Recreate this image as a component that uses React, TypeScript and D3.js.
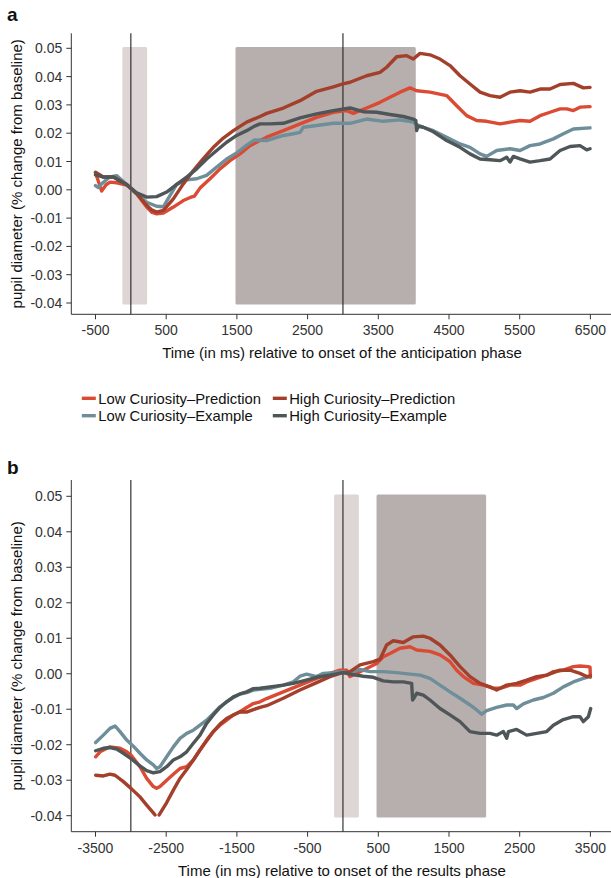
import React from "react";
import * as d3 from "d3";

type Pt = [number, number];

const seriesNames = [
  "Low Curiosity\u2013Prediction",
  "High Curiosity\u2013Prediction",
  "Low Curiosity\u2013Example",
  "High Curiosity\u2013Example",
];
const seriesColors = ["#DB4A32", "#A33F2B", "#6E8E99", "#4E5658"];

const yTicks = [0.05, 0.04, 0.03, 0.02, 0.01, 0, -0.01, -0.02, -0.03, -0.04];
const yTickLabels = ["0.05", "0.04", "0.03", "0.02", "0.01", "0.00", "-0.01", "-0.02", "-0.03", "-0.04"];
const xTicksA = [-500, 500, 1500, 2500, 3500, 4500, 5500, 6500];
const xTicksB = [-3500, -2500, -1500, -500, 500, 1500, 2500, 3500];

const shadesA = [
  { x0: -120, x1: 230, dark: false },
  { x0: 1480, x1: 4030, dark: true },
];
const shadesB = [
  { x0: -125, x1: 225, dark: false },
  { x0: 475, x1: 2025, dark: true },
];
const shadeRange = [-0.0405, 0.0505];
const vlinesA = [0, 3000];
const vlinesB = [-3000, 0];

// Panel a: anticipation phase
const aLowPred: Pt[] = [[-500,0.0060],[-460,0.0030],[-413,-0.0004],[-350,0.0018],[-295,0.0027],[-200,0.0025],[-59,0.0017],[82,-0.0014],[224,-0.0061],[300,-0.0080],[365,-0.0085],[460,-0.0082],[601,-0.0061],[742,-0.0038],[840,-0.0027],[900,-0.0022],[978,0.0006],[1120,0.0039],[1261,0.0074],[1402,0.0103],[1544,0.0127],[1685,0.0156],[1827,0.0174],[1921,0.0186],[2157,0.0209],[2393,0.0233],[2628,0.0256],[2864,0.0274],[3052,0.0280],[3147,0.0270],[3335,0.0289],[3524,0.0309],[3665,0.0327],[3807,0.0345],[3948,0.0360],[4043,0.0350],[4231,0.0345],[4467,0.0333],[4609,0.0297],[4750,0.0262],[4892,0.0245],[5033,0.0242],[5222,0.0233],[5363,0.0239],[5505,0.0245],[5646,0.0242],[5788,0.0262],[5929,0.0274],[6071,0.0286],[6165,0.0286],[6259,0.0280],[6353,0.0292],[6495,0.0294]];
const aHighPred: Pt[] = [[-500,0.0062],[-389,0.0045],[-248,0.0045],[-59,0.0019],[82,-0.0014],[224,-0.0055],[300,-0.0072],[365,-0.0079],[460,-0.0073],[601,-0.0032],[742,0.0021],[884,0.0068],[1025,0.0110],[1167,0.0150],[1308,0.0183],[1450,0.0209],[1638,0.0239],[1827,0.0259],[1921,0.0270],[2157,0.0289],[2393,0.0315],[2628,0.0348],[2864,0.0364],[3000,0.0374],[3100,0.0380],[3335,0.0403],[3524,0.0415],[3618,0.0433],[3760,0.0470],[3901,0.0474],[3995,0.0462],[4090,0.0482],[4231,0.0477],[4373,0.0462],[4514,0.0439],[4656,0.0403],[4797,0.0374],[4939,0.0345],[5080,0.0333],[5222,0.0327],[5363,0.0345],[5505,0.0350],[5646,0.0345],[5788,0.0356],[5929,0.0356],[6071,0.0372],[6259,0.0376],[6401,0.0360],[6495,0.0362]];
const aLowEx: Pt[] = [[-500,0.0015],[-460,0.0008],[-413,0.0021],[-300,0.0045],[-201,0.0050],[-59,0.0019],[82,-0.0014],[224,-0.0044],[365,-0.0058],[460,-0.0060],[507,-0.0040],[648,0.0019],[790,0.0035],[931,0.0039],[1072,0.0051],[1214,0.0080],[1355,0.0109],[1497,0.0130],[1638,0.0158],[1750,0.0176],[1921,0.0174],[2157,0.0192],[2300,0.0198],[2393,0.0203],[2440,0.0221],[2628,0.0227],[2864,0.0235],[3100,0.0235],[3335,0.0250],[3571,0.0242],[3807,0.0247],[3995,0.0239],[4043,0.0230],[4137,0.0221],[4279,0.0209],[4467,0.0186],[4656,0.0162],[4797,0.0150],[4939,0.0127],[5033,0.0118],[5175,0.0139],[5363,0.0145],[5505,0.0139],[5646,0.0156],[5788,0.0162],[5976,0.0180],[6118,0.0198],[6259,0.0215],[6495,0.0219]];
const aHighEx: Pt[] = [[-500,0.0053],[-389,0.0045],[-248,0.0045],[-59,0.0019],[82,-0.0011],[224,-0.0026],[365,-0.0024],[507,-0.0008],[648,0.0019],[790,0.0045],[931,0.0074],[1072,0.0109],[1214,0.0139],[1355,0.0168],[1497,0.0192],[1638,0.0209],[1750,0.0225],[1827,0.0233],[1968,0.0233],[2157,0.0235],[2393,0.0254],[2628,0.0268],[2864,0.0280],[3100,0.0289],[3288,0.0276],[3477,0.0274],[3665,0.0266],[3854,0.0259],[3995,0.0250],[4030,0.0245],[4043,0.0209],[4060,0.0225],[4137,0.0221],[4279,0.0205],[4467,0.0174],[4656,0.0150],[4797,0.0127],[4939,0.0109],[5080,0.0106],[5222,0.0103],[5316,0.0115],[5363,0.0098],[5410,0.0118],[5505,0.0109],[5646,0.0098],[5788,0.0103],[5929,0.0109],[6071,0.0139],[6212,0.0153],[6353,0.0156],[6448,0.0141],[6495,0.0145]];

// Panel b: results phase
const bLowPred: Pt[] = [[-3498,-0.0234],[-3436,-0.0220],[-3295,-0.0206],[-3153,-0.0210],[-3058,-0.0220],[-2998,-0.0229],[-2871,-0.0262],[-2776,-0.0295],[-2682,-0.0318],[-2635,-0.0323],[-2588,-0.0318],[-2493,-0.0300],[-2399,-0.0283],[-2305,-0.0267],[-2210,-0.0262],[-2116,-0.0243],[-2022,-0.0215],[-1928,-0.0187],[-1833,-0.0163],[-1739,-0.0145],[-1645,-0.0131],[-1550,-0.0116],[-1456,-0.0107],[-1362,-0.0095],[-1267,-0.0084],[-1173,-0.0079],[-1079,-0.0070],[-844,-0.0051],[-608,-0.0032],[-372,-0.0013],[-183,0.0001],[-42,0.0010],[52,0.0010],[100,-0.0008],[194,0.0001],[335,0.0015],[477,0.0029],[571,0.0048],[665,0.0057],[807,0.0072],[948,0.0076],[1043,0.0067],[1231,0.0063],[1373,0.0053],[1514,0.0034],[1609,0.0010],[1703,-0.0008],[1844,-0.0027],[1986,-0.0032],[2127,-0.0041],[2222,-0.0041],[2363,-0.0032],[2505,-0.0032],[2599,-0.0023],[2740,-0.0013],[2882,-0.0004],[2976,0.0006],[3117,0.0010],[3259,0.0020],[3353,0.0022],[3471,0.0020],[3495,0.0018],[3500,-0.0010]];
const bHighPred: Pt[] = [[-3498,-0.0286],[-3389,-0.0288],[-3295,-0.0283],[-3224,-0.0286],[-3106,-0.0304],[-2998,-0.0323],[-2871,-0.0347],[-2776,-0.0370],[-2682,-0.0392],[-2658,-0.0398],[-2630,-0.0406],[-2600,-0.0398],[-2493,-0.0363],[-2399,-0.0328],[-2305,-0.0295],[-2210,-0.0270],[-2116,-0.0243],[-2022,-0.0215],[-1928,-0.0189],[-1833,-0.0163],[-1739,-0.0142],[-1645,-0.0126],[-1550,-0.0116],[-1456,-0.0107],[-1362,-0.0108],[-1267,-0.0101],[-1173,-0.0095],[-1079,-0.0090],[-844,-0.0069],[-608,-0.0046],[-372,-0.0025],[-183,-0.0008],[-42,0.0001],[100,0.0006],[241,0.0025],[430,0.0034],[524,0.0041],[618,0.0081],[712,0.0093],[854,0.0088],[995,0.0104],[1137,0.0106],[1231,0.0100],[1373,0.0081],[1514,0.0053],[1656,0.0020],[1797,-0.0008],[1939,-0.0027],[2080,-0.0037],[2174,-0.0046],[2316,-0.0032],[2457,-0.0027],[2599,-0.0018],[2740,-0.0008],[2882,-0.0004],[3070,0.0010],[3212,0.0010],[3353,0.0001],[3447,-0.0008],[3500,-0.0006]];
const bLowEx: Pt[] = [[-3498,-0.0194],[-3389,-0.0173],[-3295,-0.0154],[-3224,-0.0147],[-3153,-0.0163],[-3058,-0.0187],[-2965,-0.0204],[-2871,-0.0224],[-2776,-0.0243],[-2682,-0.0257],[-2635,-0.0267],[-2588,-0.0262],[-2493,-0.0234],[-2399,-0.0206],[-2305,-0.0182],[-2210,-0.0168],[-2116,-0.0159],[-2022,-0.0145],[-1928,-0.0131],[-1833,-0.0112],[-1739,-0.0093],[-1645,-0.0079],[-1550,-0.0067],[-1456,-0.0057],[-1362,-0.0053],[-1267,-0.0046],[-1174,-0.0044],[-1032,-0.0041],[-844,-0.0032],[-702,-0.0023],[-608,-0.0007],[-513,-0.0001],[-372,-0.0008],[-278,0.0001],[-136,0.0003],[0,0.0006],[100,0.0003],[241,0.0012],[382,0.0006],[571,0.0006],[760,0.0003],[948,-0.0001],[1090,-0.0004],[1231,-0.0013],[1373,-0.0032],[1514,-0.0051],[1656,-0.0069],[1797,-0.0088],[1892,-0.0102],[1962,-0.0114],[2033,-0.0104],[2174,-0.0095],[2316,-0.0088],[2410,-0.0088],[2457,-0.0098],[2552,-0.0085],[2693,-0.0074],[2835,-0.0067],[2976,-0.0055],[3117,-0.0037],[3259,-0.0023],[3400,-0.0013],[3495,-0.0008]];
const bHighEx: Pt[] = [[-3498,-0.0217],[-3389,-0.0210],[-3295,-0.0208],[-3200,-0.0212],[-3106,-0.0224],[-2998,-0.0239],[-2871,-0.0260],[-2776,-0.0273],[-2682,-0.0279],[-2588,-0.0276],[-2493,-0.0262],[-2399,-0.0243],[-2305,-0.0234],[-2210,-0.0220],[-2116,-0.0196],[-2022,-0.0173],[-1928,-0.0140],[-1833,-0.0116],[-1739,-0.0095],[-1645,-0.0079],[-1550,-0.0065],[-1456,-0.0057],[-1362,-0.0051],[-1267,-0.0042],[-1173,-0.0041],[-1032,-0.0037],[-844,-0.0032],[-702,-0.0027],[-560,-0.0020],[-372,-0.0010],[-184,-0.0004],[0,0.0003],[100,-0.0001],[288,-0.0007],[430,-0.0010],[571,-0.0020],[712,-0.0023],[854,-0.0023],[972,-0.0027],[985,-0.0074],[1000,-0.0070],[1043,-0.0055],[1137,-0.0060],[1231,-0.0074],[1373,-0.0098],[1514,-0.0116],[1656,-0.0135],[1797,-0.0163],[1939,-0.0168],[2080,-0.0168],[2174,-0.0173],[2269,-0.0163],[2316,-0.0182],[2340,-0.0163],[2457,-0.0157],[2599,-0.0173],[2740,-0.0168],[2882,-0.0163],[2976,-0.0145],[3117,-0.0129],[3259,-0.0121],[3353,-0.0121],[3400,-0.0135],[3471,-0.0121],[3504,-0.0098]];

const FONT = "'Liberation Sans', Arial, Helvetica, sans-serif";

type PanelProps = {
  label: string;
  labelY: number;
  xTicks: number[];
  series: Pt[][];
  shades: { x0: number; x1: number; dark: boolean }[];
  vlines: number[];
  axisTop: number;
  axisBottom: number;
  yTickTop: number;
  yTickBottom: number;
  xTitle: string;
};

const AXIS_X = 71.3;
const X_LEFT = 95.5;
const X_RIGHT = 590.4;

function Panel(p: PanelProps) {
  const x = d3.scaleLinear().domain([p.xTicks[0], p.xTicks[p.xTicks.length - 1]]).range([X_LEFT, X_RIGHT]);
  const y = d3.scaleLinear().domain([-0.04, 0.05]).range([p.yTickBottom, p.yTickTop]);
  const line = d3
    .line<Pt>()
    .defined((d) => d[1] >= -0.0401)
    .x((d) => x(d[0]))
    .y((d) => y(d[1]));
  const drawOrder = [0, 2, 1, 3];
  const midY = (p.axisTop + p.axisBottom) / 2;
  return (
    <g>
      <text x={7} y={p.labelY} fontFamily={FONT} fontWeight="bold" fontSize={19} fill="#111">
        {p.label}
      </text>
      {p.shades.map((s, i) => (
        <rect
          key={i}
          x={x(s.x0)}
          y={y(shadeRange[1])}
          width={x(s.x1) - x(s.x0)}
          height={y(shadeRange[0]) - y(shadeRange[1])}
          rx={1.5}
          fill={s.dark ? "#B7AFAD" : "#DDD6D5"}
        />
      ))}
      {p.vlines.map((v) => (
        <line key={v} x1={x(v)} x2={x(v)} y1={p.axisTop} y2={p.axisBottom} stroke="#222" strokeWidth={1.1} />
      ))}
      {drawOrder.map((i) => (
        <path
          key={i}
          d={line(p.series[i]) || ""}
          fill="none"
          stroke={seriesColors[i]}
          strokeWidth={3.4}
          strokeLinejoin="round"
          strokeLinecap="round"
        />
      ))}
      {/* y axis */}
      <line x1={AXIS_X} x2={AXIS_X} y1={p.axisTop} y2={p.axisBottom} stroke="#333" strokeWidth={1} />
      {yTicks.map((t, i) => (
        <g key={t}>
          <line x1={AXIS_X - 5} x2={AXIS_X} y1={y(t)} y2={y(t)} stroke="#333" strokeWidth={1} />
          <text x={AXIS_X - 9} y={y(t)} dy="0.36em" textAnchor="end" fontFamily={FONT} fontSize={14} fill="#333">
            {yTickLabels[i]}
          </text>
        </g>
      ))}
      {/* x axis */}
      <line x1={AXIS_X} x2={611} y1={p.axisBottom} y2={p.axisBottom} stroke="#333" strokeWidth={1} />
      {p.xTicks.map((t) => (
        <g key={t}>
          <line x1={x(t)} x2={x(t)} y1={p.axisBottom} y2={p.axisBottom + 5} stroke="#333" strokeWidth={1} />
          <text x={x(t)} y={p.axisBottom + 21} textAnchor="middle" fontFamily={FONT} fontSize={14} fill="#333">
            {t}
          </text>
        </g>
      ))}
      <text x={(X_LEFT + X_RIGHT) / 2 - 1} y={p.axisBottom + 44} textAnchor="middle" fontFamily={FONT} fontSize={15} fill="#111">
        {p.xTitle}
      </text>
      <text
        transform={`translate(21.5, ${midY}) rotate(-90)`}
        textAnchor="middle"
        fontFamily={FONT}
        fontSize={15}
        fill="#111"
      >
        pupil diameter (% change from baseline)
      </text>
    </g>
  );
}

function Legend() {
  const cols = [81.8, 272.8];
  const rows = [398.3, 415.7];
  return (
    <g>
      {seriesNames.map((name, i) => {
        const cx = cols[i % 2];
        const cy = rows[Math.floor(i / 2)];
        return (
          <g key={name}>
            <line x1={cx} x2={cx + 14} y1={cy} y2={cy} stroke={seriesColors[i]} strokeWidth={3.4} />
            <text x={cx + 16.4} y={cy} dy="0.36em" fontFamily={FONT} fontSize={14.8} fill="#111">
              {name}
            </text>
          </g>
        );
      })}
    </g>
  );
}

export default function App() {
  return (
    <svg
      width={611}
      height={878}
      style={{ position: "absolute", left: 0, top: 0, background: "#fff" }}
      xmlns="http://www.w3.org/2000/svg"
    >
      <rect x={0} y={0} width={611} height={878} fill="#fff" />
      <Panel
        label="a"
        labelY={21}
        xTicks={xTicksA}
        series={[aLowPred, aHighPred, aLowEx, aHighEx]}
        shades={shadesA}
        vlines={vlinesA}
        axisTop={33.3}
        axisBottom={314.3}
        yTickTop={48.3}
        yTickBottom={303}
        xTitle="Time (in ms) relative to onset of the anticipation phase"
      />
      <Legend />
      <Panel
        label="b"
        labelY={474}
        xTicks={xTicksB}
        series={[bLowPred, bHighPred, bLowEx, bHighEx]}
        shades={shadesB}
        vlines={vlinesB}
        axisTop={480}
        axisBottom={831.7}
        yTickTop={496.3}
        yTickBottom={815.7}
        xTitle="Time (in ms) relative to onset of the results phase"
      />
    </svg>
  );
}
